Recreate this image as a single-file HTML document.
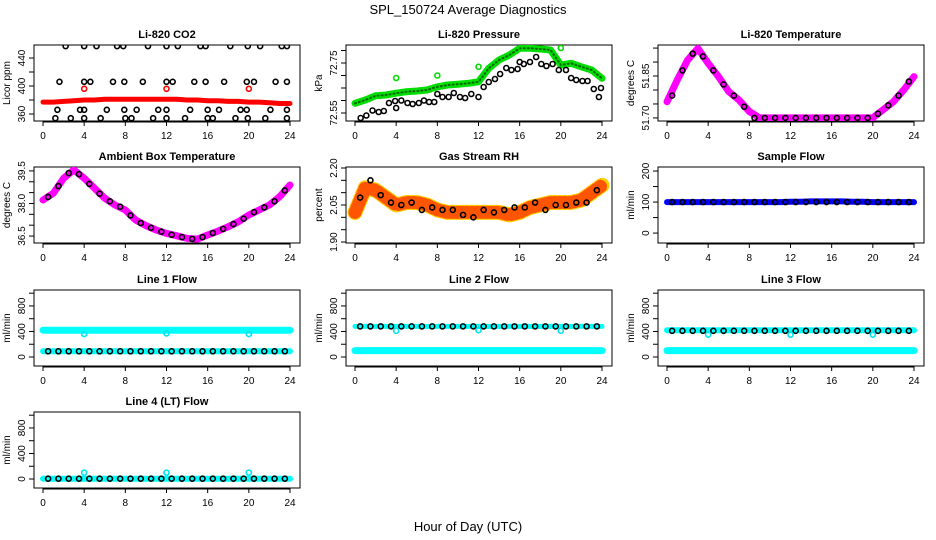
<!DOCTYPE html>
<html><head><meta charset="utf-8"><style>
body{margin:0;background:#fff;}
svg{display:block;font-family:"Liberation Sans",sans-serif;}
</style></head><body>
<svg id="c" width="936" height="540" viewBox="0 0 936 540">
<text x="468" y="14" text-anchor="middle" font-size="13">SPL_150724  Average Diagnostics</text>
<text x="468" y="531" text-anchor="middle" font-size="13">Hour of Day (UTC)</text>
</svg>
<script>
// ---- data ----
const hours = [0,1,2,3,4,5,6,7,8,9,10,11,12,13,14,15,16,17,18,19,20,21,22,23,24];
const midHours = [0.5,1.5,2.5,3.5,4.5,5.5,6.5,7.5,8.5,9.5,10.5,11.5,12.5,13.5,14.5,15.5,16.5,17.5,18.5,19.5,20.5,21.5,22.5,23.5];
const xTicks = [0,4,8,12,16,20,24];

const co2Red = [377,377,378,379,380,380,381,381,381,381,381,381,381,381,380,380,379,379,378,378,377,377,376,375,375];
const co2OutHours = [4,12,20];
const co2OutVals = [396,396,396];
const co2BlackHours = [2.2,4,5.2,7.2,7.8,10.2,12,13.1,15.3,15.8,18.2,19.9,21.1,23.2,23.7, 1.6,4,4.6,6.8,7.9,9.7,12,12.6,14.7,15.8,17.6,19.8,20.5,22.6,23.7, 1.4,3.6,4,6.2,7.9,9.1,11.2,12,14.3,16,17.1,19.2,19.8,22.1,23.7, 1.2,2.7,4,5.6,8,8.6,10.7,12,13.8,16,16.5,18.7,19.9,21.6,23.7];
const co2BlackVals = [457,457,457,457,457,457,457,457,457,457,457,457,457,457,457, 406,406,406,406,406,406,406,406,406,406,406,406,406,406,406, 366,366,366,366,366,366,366,366,366,366,366,366,366,366,366, 354,354,354,354,354,354,354,354,354,354,354,354,354,354,354];

const presGreen = [72.589,72.602,72.619,72.622,72.629,72.635,72.638,72.642,72.655,72.662,72.665,72.669,72.675,72.729,72.762,72.782,72.809,72.809,72.806,72.802,72.742,72.749,72.735,72.722,72.689];
const presOutHours = [4,8,12,20];
const presOutVals = [72.69,72.70,72.735,72.81];
const presBlackHours = [0.55,1.1,1.7,2.3,2.8,3.3,3.9,4,4.5,5.1,5.6,6.2,6.7,7.2,7.7,8,8.5,9.1,9.6,10.2,10.7,11.3,12,12.5,13,13.6,14.1,14.7,15.2,15.8,16,16.4,17,17.6,18.1,18.6,19.2,19.8,20.5,21,21.5,22.1,22.6,23.2,23.7,23.9];
const presBlackVals = [72.53,72.54,72.56,72.554,72.558,72.59,72.598,72.57,72.60,72.59,72.586,72.59,72.60,72.594,72.594,72.626,72.614,72.614,72.63,72.614,72.61,72.626,72.614,72.654,72.674,72.686,72.706,72.73,72.722,72.726,72.754,72.746,72.754,72.774,72.746,72.738,72.746,72.722,72.722,72.69,72.682,72.678,72.678,72.646,72.614,72.65];

const tempMag = [51.758,51.836,51.907,51.949,51.895,51.848,51.794,51.764,51.723,51.70,51.70,51.70,51.70,51.70,51.70,51.70,51.70,51.70,51.70,51.70,51.70,51.729,51.758,51.80,51.848];
const tempBlack = [51.78,51.87,51.93,51.92,51.87,51.82,51.78,51.74,51.70,51.70,51.70,51.70,51.70,51.70,51.70,51.70,51.70,51.70,51.70,51.70,51.715,51.745,51.78,51.83];

const ambMag = [38.16,38.47,39.16,39.55,39.16,38.70,38.24,37.93,37.70,37.24,36.98,36.78,36.62,36.51,36.39,36.36,36.55,36.73,36.93,37.16,37.47,37.70,37.93,38.31,38.85];
const ambBlack = [38.3,38.8,39.4,39.35,38.9,38.45,38.1,37.85,37.45,37.1,36.88,36.7,36.56,36.45,36.37,36.45,36.64,36.83,37.05,37.3,37.6,37.82,38.1,38.6];

const rhBand = [2.02,2.12,2.11,2.08,2.05,2.06,2.06,2.05,2.03,2.02,2.02,2.02,2.02,2.02,2.02,2.01,2.02,2.04,2.05,2.06,2.06,2.06,2.07,2.10,2.13];
const rhBlack = [2.08,2.15,2.09,2.06,2.05,2.06,2.03,2.04,2.03,2.03,2.01,2.00,2.03,2.02,2.03,2.04,2.04,2.06,2.03,2.05,2.05,2.06,2.06,2.11];

const sampleBlue = [100,100,100,100,100,100,100,100,100,100,100,100,101,101,102,102,102,102,101,101,100,100,100,100,100];
const sampleBlack = [100,100,100,100,100,100,100,100,100,100,100,100,100,100,100,100,100,100,100,100,100,100,100,100];

const line1Cyan = [420,420,420,420,420,420,420,420,420,420,420,420,420,420,420,420,420,420,420,420,420,420,420,420,420];
const line1Low = [90,90,90,90,90,90,90,90,90,90,90,90,90,90,90,90,90,90,90,90,90,90,90,90,90];
const line1Black = [90,90,90,90,90,90,90,90,90,90,90,90,90,90,90,90,90,90,90,90,90,90,90,90];
const line1Out = [360,370,360];

const line2Cyan = [100,100,100,100,100,100,100,100,100,100,100,100,100,100,100,100,100,100,100,100,100,100,100,100,100];
const line2High = [480,480,480,480,480,480,480,480,480,480,480,480,480,480,480,480,480,480,480,480,480,480,480,480,480];
const line2Black = [480,480,480,480,480,480,480,480,480,480,480,480,480,480,480,480,480,480,480,480,480,480,480,480];
const line2Out = [410,420,410];

const line3Cyan = [100,100,100,100,100,100,100,100,100,100,100,100,100,100,100,100,100,100,100,100,100,100,100,100,100];
const line3High = [420,420,420,420,420,420,420,420,420,420,420,420,420,420,420,420,420,420,420,420,420,420,420,420,420];
const line3Black = [410,410,410,410,410,410,410,410,410,410,410,410,410,410,410,410,410,410,410,410,410,410,410,410];
const line3Out = [350,350,350];

const line4Cyan = [5,5,5,5,5,5,5,5,5,5,5,5,5,5,5,5,5,5,5,5,5,5,5,5,5];
const line4Black = [5,5,5,5,5,5,5,5,5,5,5,5,5,5,5,5,5,5,5,5,5,5,5,5];
const line4Out = [100,100,100];
const outHours = [4,12,20];

// ---- drawing ----
const svg = document.getElementById('c');
const NS = 'http://www.w3.org/2000/svg';
function mk(tag, attrs, parent){const e=document.createElementNS(NS,tag);for(const k in attrs)e.setAttribute(k,attrs[k]);(parent||svg).appendChild(e);return e;}

function panel(col,row,title,ytitle,ylim,yticks,ylabels,name){
  const bx=[34,346,658][col], by=[45,167,290,412][row];
  const W=266,H=76;
  const g=mk('g',{});
  
  
  const x=h=>bx+9+h*(247/24);
  const y=v=>by+H-(v-ylim[0])/(ylim[1]-ylim[0])*H;
  const t=mk('text',{x:bx+W/2,y:by-7,'text-anchor':'middle','font-size':'11','font-weight':'bold'},g);
  t.textContent=title;
  
  
  const box=mk('rect',{x:bx,y:by,width:W,height:H,fill:'none',stroke:'#000','stroke-width':1},g);
  
  
  const xa=mk('g',{},g);
  
  
  mk('line',{x1:x(0),x2:x(24),y1:by+H+1,y2:by+H+1,stroke:'#000'},xa);
  xTicks.forEach(h=>{
    mk('line',{x1:x(h),x2:x(h),y1:by+H,y2:by+H+5,stroke:'#000'},xa);
    const l=mk('text',{x:x(h),y:by+H+18,'text-anchor':'middle','font-size':'10'},xa);
    l.textContent=h;
  });
  const ya=mk('g',{},g);
  
  
  yticks.forEach(v=>{mk('line',{x1:bx-5,x2:bx,y1:y(v),y2:y(v),stroke:'#000'},ya);});
  ylabels.forEach(v=>{
    const l=mk('text',{x:bx-9,y:y(v.v),'text-anchor':'middle','font-size':'10',transform:`rotate(-90 ${bx-9} ${y(v.v)})`},ya);
    l.textContent=v.label;
  });
  const yt=mk('text',{x:bx-24,y:by+H/2,'text-anchor':'middle','font-size':'10',transform:`rotate(-90 ${bx-24} ${by+H/2})`},g);
  yt.textContent=ytitle;
  
  
  const clipId='cl'+name;
  const cp=mk('clipPath',{id:clipId},g);mk('rect',{x:bx,y:by,width:W,height:H},cp);
  const plot=mk('g',{'clip-path':`url(#${clipId})`},g);
  return {x,y,plot};
}
function band(p,hs,vals,color,w,name){
  const d=hs.map((h,i)=>(i?'L':'M')+p.x(h).toFixed(1)+' '+p.y(vals[i]).toFixed(1)).join(' ');
  const e=mk('path',{d,fill:'none',stroke:color,'stroke-width':w,'stroke-linejoin':'round','stroke-linecap':'round'},p.plot);
  
  
  return e;
}
function pts(p,hs,vals,color,name,r){
  const g=mk('g',{},p.plot);
  
  
  hs.forEach((h,i)=>mk('circle',{cx:p.x(h),cy:p.y(vals[i]),r:r||2.5,fill:'none',stroke:color,'stroke-width':1.6},g));
}
const L=(arr)=>arr.map(a=>({v:a[0],label:a[1]}));

// CO2
let p=panel(0,0,'Li-820 CO2','Licor ppm',[350,458.6],[360,380,400,420,440],L([[360,'360'],[400,'400'],[440,'440']]),'co2');
band(p,hours,co2Red,'#ff0000',5,'co2-red-series');
pts(p,co2BlackHours,co2BlackVals,'#000','co2-black-points');
pts(p,co2OutHours,co2OutVals,'#ff0000','co2-red-outliers');

// Pressure
p=panel(1,0,'Li-820 Pressure','kPa',[72.518,72.822],[72.55,72.60,72.65,72.70,72.75,72.80],L([[72.55,'72.55'],[72.75,'72.75']]),'pressure');
band(p,hours,presGreen,'#00dd00',7,'pressure-green-series');
band(p,hours,presGreen,'#006600',2,'pressure-green-speckle').setAttribute('stroke-dasharray','1 3');
pts(p,presOutHours,presOutVals,'#00dd00','pressure-green-outliers');
pts(p,presBlackHours,presBlackVals,'#000','pressure-black-points');

// Temperature
p=panel(2,0,'Li-820 Temperature','degrees C',[51.689,51.961],[51.70,51.75,51.80,51.85,51.90,51.95],L([[51.70,'51.70'],[51.85,'51.85']]),'li820-temperature');
band(p,hours,tempMag,'#ff00ff',7,'temperature-magenta-series');
pts(p,midHours,tempBlack,'#000','temperature-black-points');

// Ambient
p=panel(0,1,'Ambient Box Temperature','degrees C',[36.18,39.68],[36.5,37,37.5,38,38.5,39,39.5],L([[36.5,'36.5'],[38,'38.0'],[39.5,'39.5']]),'ambient-temperature');
band(p,hours,ambMag,'#ff00ff',7,'ambient-magenta-series');
pts(p,midHours,ambBlack,'#000','ambient-black-points');

// RH
p=panel(1,1,'Gas Stream RH','percent',[1.896,2.204],[1.90,1.95,2.00,2.05,2.10,2.15,2.20],L([[1.90,'1.90'],[2.05,'2.05'],[2.20,'2.20']]),'rh');
band(p,hours,rhBand,'#ffcc00',15,'rh-orange-series');
band(p,hours,rhBand,'#ff5500',13,'rh-red-speckle').setAttribute('stroke-dasharray','1 4');
pts(p,midHours,rhBlack,'#000','rh-black-points');

// Sample flow
p=panel(2,1,'Sample Flow','ml/min',[-32,213],[0,50,100,150,200],L([[0,'0'],[100,'100'],[200,'200']]),'sample-flow');
band(p,hours,sampleBlue,'#0000ff',6,'sample-blue-series');
pts(p,midHours,sampleBlack,'#000','sample-black-points');

const fl=[-141,1050], ft=[0,200,400,600,800,1000], fl2=L([[0,'0'],[400,'400'],[800,'800']]);
// Line1
p=panel(0,2,'Line 1 Flow','ml/min',fl,ft,fl2,'line1');
band(p,hours,line1Cyan,'#00ffff',7,'line1-cyan-high');
band(p,hours,line1Low,'#00ffff',6,'line1-cyan-low');
pts(p,midHours,line1Black,'#000','line1-black-points');
pts(p,outHours,line1Out,'#00e5ee','line1-outliers');
// Line2
p=panel(1,2,'Line 2 Flow','ml/min',fl,ft,fl2,'line2');
band(p,hours,line2Cyan,'#00ffff',7,'line2-cyan-low');
band(p,hours,line2High,'#00ffff',5,'line2-cyan-high');
pts(p,midHours,line2Black,'#000','line2-black-points');
pts(p,outHours,line2Out,'#00e5ee','line2-outliers');
// Line3
p=panel(2,2,'Line 3 Flow','ml/min',fl,ft,fl2,'line3');
band(p,hours,line3Cyan,'#00ffff',7,'line3-cyan-low');
band(p,hours,line3High,'#00ffff',6,'line3-cyan-high');
pts(p,midHours,line3Black,'#000','line3-black-points');
pts(p,outHours,line3Out,'#00e5ee','line3-outliers');
// Line4
p=panel(0,3,'Line 4 (LT) Flow','ml/min',fl,ft,fl2,'line4');
band(p,hours,line4Cyan,'#00ffff',6,'line4-cyan-series');
pts(p,midHours,line4Black,'#000','line4-black-points');
pts(p,outHours,line4Out,'#00e5ee','line4-outliers');
</script>
</body></html>
